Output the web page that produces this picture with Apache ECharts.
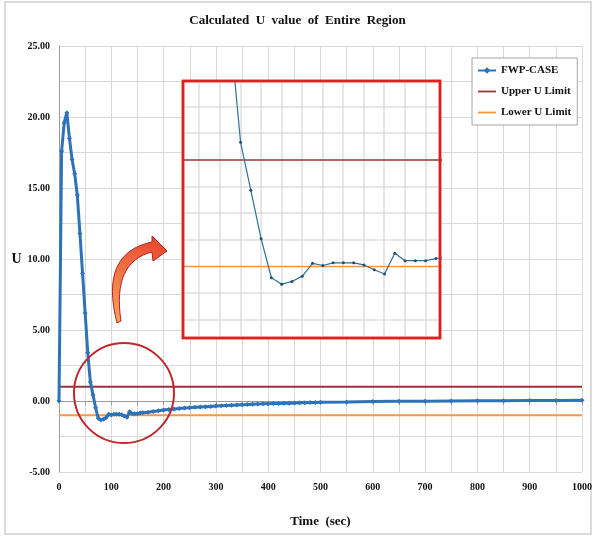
<!DOCTYPE html>
<html>
<head>
<meta charset="utf-8">
<script src="https://cdn.jsdelivr.net/npm/echarts@6/dist/echarts.min.js"></script>
<style>
html,body{margin:0;padding:0;background:#fff;}
#chart{width:595px;height:537px;}
</style>
</head>
<body>
<div id="chart"></div>
<script>
// ---- data ----
var times = [0,5,10,15,20,25,30,35,40,45,50,55,60,65,70,75,80,85,90,95,100,105,110,115,120,125,130,135,140,145,150,155,
  160,170,180,190,200,210,220,230,240,250,260,270,280,290,300,310,320,330,340,350,360,370,380,390,400,
  410,420,430,440,450,460,470,480,490,500,550,600,650,700,750,800,850,900,950,1000];
var uValues = [0.0,17.6,19.6,20.3,18.5,17.0,16.0,14.5,11.8,9.0,6.2,3.4,1.33,0.43,-0.48,-1.21,-1.33,-1.28,-1.18,-0.94,-0.98,-0.93,-0.93,-0.93,-0.97,-1.06,-1.14,-0.75,-0.89,-0.89,-0.89,-0.85,
  -0.83,-0.79,-0.74,-0.69,-0.64,-0.60,-0.56,-0.53,-0.50,-0.47,-0.44,-0.42,-0.40,-0.38,-0.36,-0.34,-0.32,-0.30,-0.28,-0.26,-0.25,-0.23,-0.22,-0.20,-0.19,
  -0.18,-0.17,-0.16,-0.15,-0.14,-0.13,-0.12,-0.11,-0.10,-0.09,-0.07,-0.04,-0.02,-0.01,0.0,0.01,0.02,0.03,0.04,0.05];
var upperLimit = 1.0;
var lowerLimit = -1.0;
var limitSpan = [0, 1000];
var seriesNames = ['FWP-CASE', 'Upper U Limit', 'Lower U Limit'];
var insetXGrid = [40,50,60,70,80,90,100,110,120,130,140,150];
var insetYGrid = [-2,-1.5,-0.5,0,0.5,1.5,2];

var mainData = times.map(function(t,i){return [t,uValues[i]];});
var upperData = limitSpan.map(function(t){return [t,upperLimit];});
var lowerData = limitSpan.map(function(t){return [t,lowerLimit];});

var serif = '"Liberation Serif","DejaVu Serif",serif';
var blue = '#2E72B8';
var darkRed = '#953735';
var orange = '#F79646';

// decorative curved arrow outline (quadratic curves sampled to a polygon)
function quad(p0,c,p1,n){
  var out=[];
  for(var i=0;i<=n;i++){var s=i/n,a=(1-s)*(1-s),b=2*(1-s)*s,d=s*s;
    out.push([a*p0[0]+b*c[0]+d*p1[0], a*p0[1]+b*c[1]+d*p1[1]]);}
  return out;
}
var arrowPts = quad([117,323],[99,253],[152,242],16)
  .concat([[152,236],[167,251],[153,261]])
  .concat(quad([152,252],[112,262],[121,321],16));

var lineIcon = 'path://M0,3.2 L20,3.2 L20,5.2 L0,5.2 Z';

var chart = echarts.init(document.getElementById('chart'), null, {renderer:'canvas'});
chart.setOption({
  animation:false,
  backgroundColor:'#fff',
  title:{
    text:'Calculated  U  value  of  Entire  Region',
    left:'center', top:9,
    textStyle:{fontFamily:serif,fontWeight:'bold',fontSize:13,color:'#111'}
  },
  legend:{
    data:[{name:seriesNames[0]},{name:seriesNames[1],icon:lineIcon},{name:seriesNames[2],icon:lineIcon}],
    orient:'vertical', left:472, top:58,
    backgroundColor:'#fff', borderColor:'#A6A6A6', borderWidth:1,
    padding:[7,6,7,5], itemGap:10, itemWidth:18, itemHeight:8,
    textStyle:{fontFamily:serif,fontWeight:'bold',fontSize:11,color:'#111'}
  },
  grid:[
    {left:59, right:12, top:46, bottom:65, show:false},
    {left:183, top:81, width:257, height:257, show:true, backgroundColor:'#fff',
     borderColor:'#E0201E', borderWidth:2.5, z:1}
  ],
  xAxis:[
    {gridIndex:0, type:'value', min:0, max:1000, interval:50,
     name:'Time  (sec)', nameLocation:'middle', nameGap:43,
     nameTextStyle:{fontFamily:serif,fontWeight:'bold',fontSize:13,color:'#111'},
     axisLine:{lineStyle:{color:'#9A9A9A'}},
     axisTick:{show:true,length:4,lineStyle:{color:'#9A9A9A'}},
     axisLabel:{margin:10,fontFamily:serif,fontWeight:'bold',fontSize:10,color:'#111',
       formatter:function(v){return v%100===0?String(v):'';}},
     splitLine:{show:true,lineStyle:{color:'#D9D9D9',width:1}}},
    {gridIndex:1, type:'value', min:32, max:157, show:false, splitLine:{show:false}}
  ],
  yAxis:[
    {gridIndex:0, type:'value', min:-5, max:25, interval:2.5,
     name:'U', nameLocation:'middle', nameGap:36, nameRotate:0,
     nameTextStyle:{fontFamily:serif,fontWeight:'bold',fontSize:14,color:'#111'},
     axisLine:{show:true,lineStyle:{color:'#9A9A9A'}},
     axisTick:{show:false},
     axisLabel:{margin:9,fontFamily:serif,fontWeight:'bold',fontSize:10,color:'#111',
       formatter:function(v){return Math.abs(v%5)<1e-9?v.toFixed(2):'';}},
     splitLine:{show:true,lineStyle:{color:'#D9D9D9',width:1}}},
    {gridIndex:1, type:'value', min:-2.34, max:2.48, show:false, splitLine:{show:false}}
  ],
  series:[
    {name:seriesNames[1], type:'line', xAxisIndex:0, yAxisIndex:0, data:upperData,
     symbol:'none', lineStyle:{color:darkRed,width:2}, itemStyle:{color:darkRed}, z:2},
    {name:seriesNames[2], type:'line', xAxisIndex:0, yAxisIndex:0, data:lowerData,
     symbol:'none', lineStyle:{color:orange,width:2}, itemStyle:{color:orange}, z:2},
    {name:seriesNames[0], type:'line', xAxisIndex:0, yAxisIndex:0, data:mainData,
     symbol:'diamond', symbolSize:5, showSymbol:true,
     lineStyle:{color:blue,width:3}, itemStyle:{color:blue}, z:3},
    // inset grid lines: vertical at insetXGrid, horizontal at insetYGrid
    {name:'insetGridV', type:'custom', xAxisIndex:1, yAxisIndex:1, z:5, silent:true,
     data:insetXGrid.map(function(v){return [v, 0];}),
     renderItem:function(params, api){
       var cs = params.coordSys;
       var p = api.coord([api.value(0), api.value(1)]);
       return {type:'rect', shape:{x:Math.round(p[0])-0.5, y:cs.y, width:1, height:cs.height},
               style:{fill:'#D0D0D0'}};
     }},
    {name:'insetGridH', type:'custom', xAxisIndex:1, yAxisIndex:1, z:5, silent:true,
     data:insetYGrid.map(function(v){return [40, v];}),
     renderItem:function(params, api){
       var cs = params.coordSys;
       var p = api.coord([api.value(0), api.value(1)]);
       return {type:'rect', shape:{x:cs.x, y:Math.round(p[1])-0.5, width:cs.width, height:1},
               style:{fill:'#D0D0D0'}};
     }},
    {name:'insetUpper', type:'line', xAxisIndex:1, yAxisIndex:1, data:upperData, clip:true,
     symbol:'none', lineStyle:{color:darkRed,width:1.5}, z:6},
    {name:'insetLower', type:'line', xAxisIndex:1, yAxisIndex:1, data:lowerData, clip:true,
     symbol:'none', lineStyle:{color:orange,width:1.5}, z:6},
    {name:'insetMain', type:'line', xAxisIndex:1, yAxisIndex:1, data:mainData, clip:true,
     symbol:'circle', symbolSize:3, showSymbol:true,
     lineStyle:{color:'#2F7096',width:1.2}, itemStyle:{color:'#244E6E'}, z:7}
  ],
  graphic:[
    {type:'rect', shape:{x:5,y:2,width:586,height:532}, z:-10,
     style:{fill:'none',stroke:'#CFCFCF',lineWidth:1.5}},
    {type:'rect', shape:{x:183,y:81,width:257,height:257}, z:50, silent:true,
     style:{fill:'none',stroke:'#E0201E',lineWidth:2.5}},
    {type:'circle', shape:{cx:124,cy:393,r:50}, z:50, silent:true,
     style:{fill:'none',stroke:'#C0282D',lineWidth:2}},
    {type:'polygon', z:50, silent:true,
     shape:{points:arrowPts},
     style:{fill:{type:'linear',x:0,y:1,x2:1,y2:0,colorStops:[{offset:0,color:'#F7A35C'},{offset:1,color:'#E8402A'}]},
            stroke:'#B22222',lineWidth:1}}
  ]
});
</script>
</body>
</html>
